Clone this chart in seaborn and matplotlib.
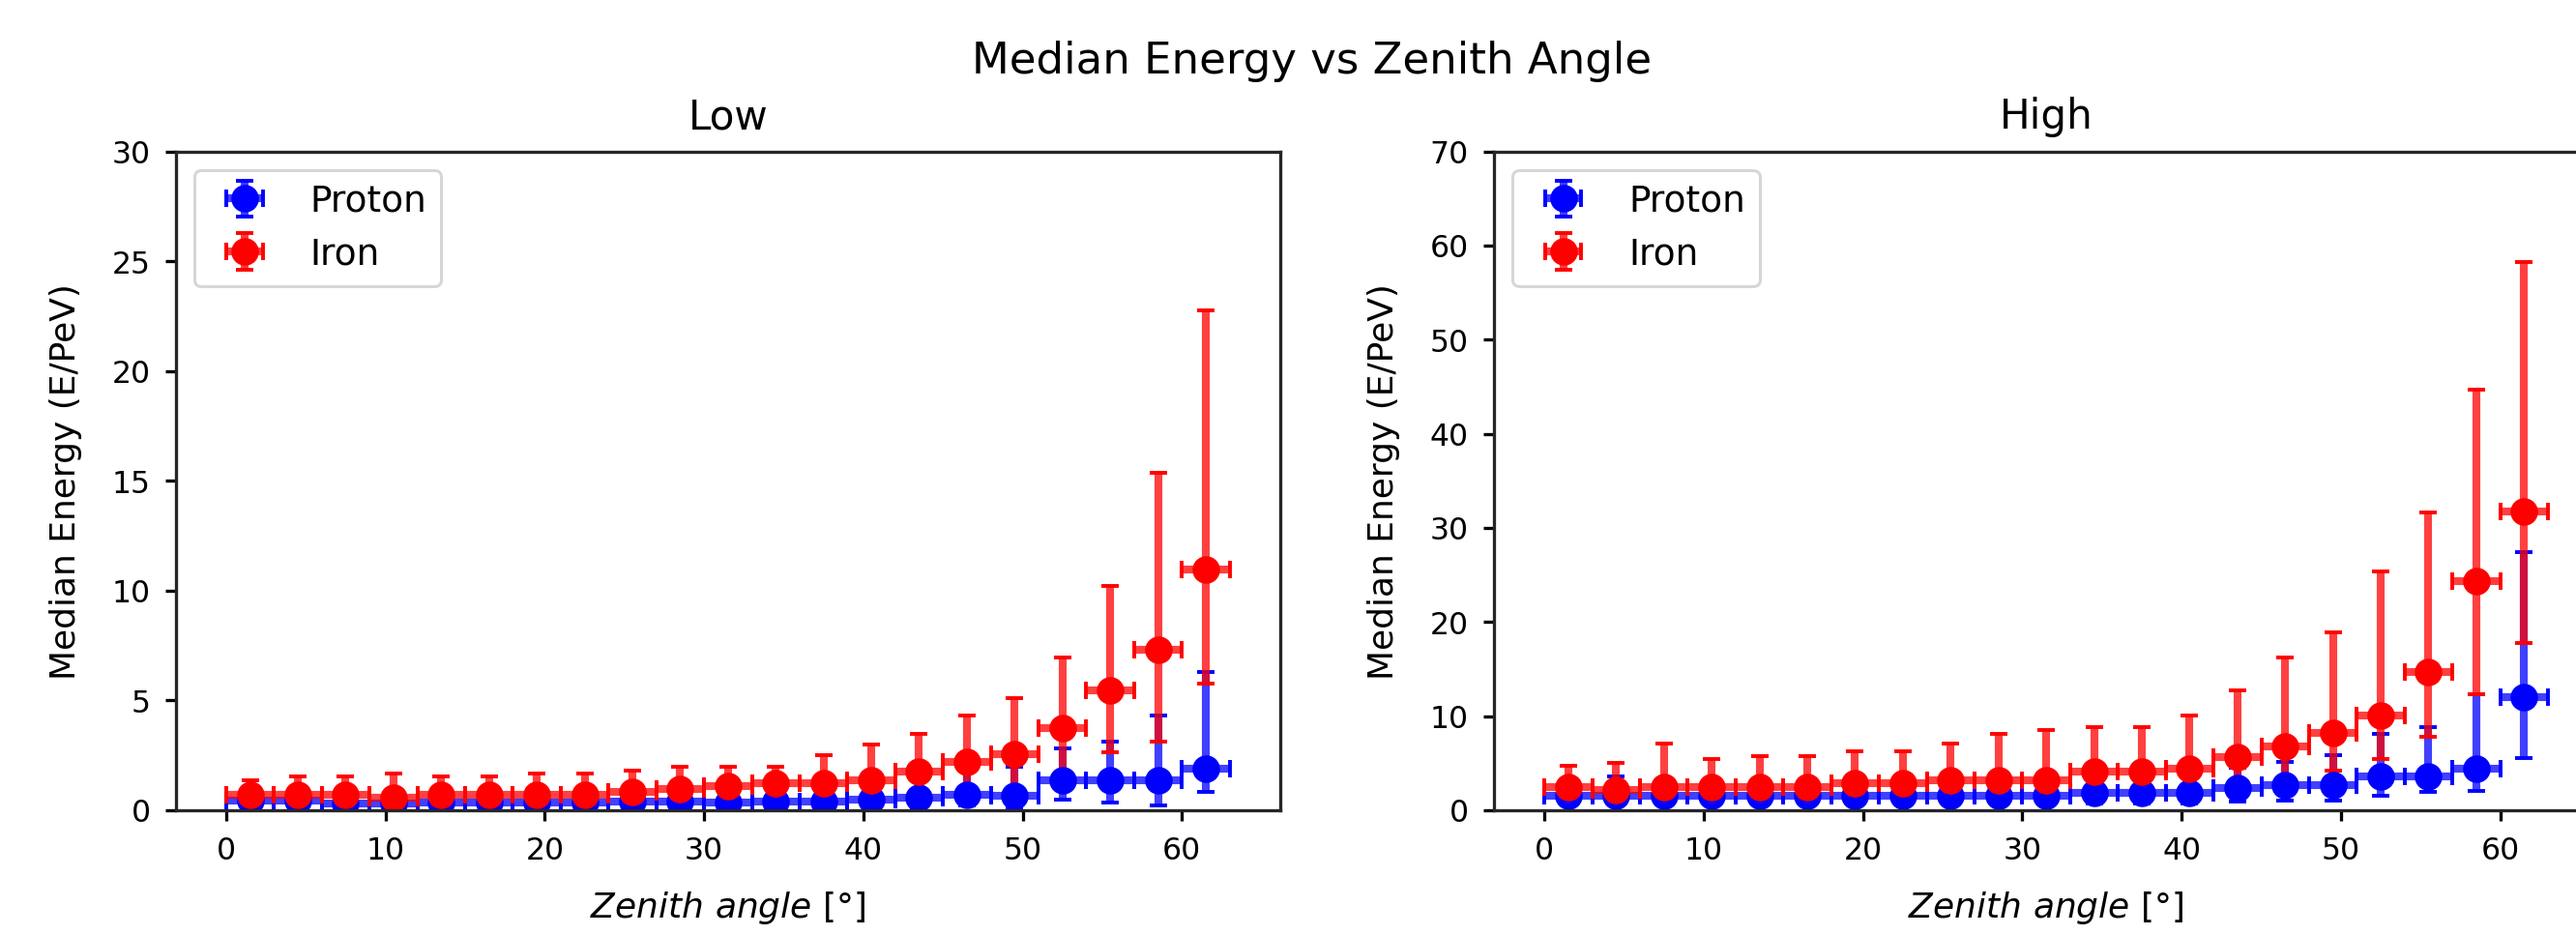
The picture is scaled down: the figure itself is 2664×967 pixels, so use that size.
import numpy as np
import matplotlib
matplotlib.use("Agg")
from matplotlib import pyplot as plt
import seaborn as sns

# bin centres of the zenith angle bins (degrees) and half width of a bin
zenith = [1.5, 4.5, 7.5, 10.5, 13.5, 16.5, 19.5, 22.5, 25.5, 28.5, 31.5,
          34.5, 37.5, 40.5, 43.5, 46.5, 49.5, 52.5, 55.5, 58.5, 61.5]
zenith_halfwidth = 1.5

# Low energy sample: median and lower / upper band (E/PeV)
proton_low_med = [0.42, 0.42, 0.30, 0.30, 0.35, 0.35, 0.35, 0.35, 0.40, 0.40, 0.35,
                  0.40, 0.40, 0.50, 0.57, 0.70, 0.68, 1.36, 1.36, 1.36, 1.89]
proton_low_lo = [0.10, 0.10, 0.05, 0.05, 0.08, 0.08, 0.08, 0.08, 0.10, 0.10, 0.08,
                 0.10, 0.10, 0.12, 0.15, 0.20, 0.15, 0.50, 0.35, 0.20, 0.85]
proton_low_hi = [0.95, 0.95, 0.85, 0.85, 0.90, 0.90, 0.90, 0.95, 1.00, 1.10, 1.10,
                 1.20, 1.25, 1.35, 1.50, 1.80, 2.00, 2.83, 3.13, 4.30, 6.28]

iron_low_med = [0.72, 0.72, 0.72, 0.57, 0.72, 0.72, 0.72, 0.72, 0.83, 0.98, 1.08,
                1.23, 1.23, 1.38, 1.74, 2.22, 2.55, 3.72, 5.48, 7.33, 10.95]
iron_low_lo = [0.30, 0.30, 0.30, 0.25, 0.30, 0.30, 0.30, 0.30, 0.35, 0.40, 0.40,
               0.45, 0.45, 0.50, 0.60, 0.90, 0.90, 1.60, 2.65, 3.13, 5.77]
iron_low_hi = [1.37, 1.52, 1.52, 1.65, 1.52, 1.52, 1.65, 1.65, 1.81, 1.99, 1.99,
               1.99, 2.49, 2.99, 3.48, 4.30, 5.11, 6.97, 10.23, 15.36, 22.77]

# High energy sample
proton_high_med = [1.55, 1.55, 1.55, 1.55, 1.55, 1.55, 1.55, 1.55, 1.55, 1.55, 1.55,
                   1.84, 1.84, 1.84, 2.36, 2.70, 2.70, 3.55, 3.60, 4.42, 12.0]
proton_high_lo = [0.6, 0.6, 0.6, 0.6, 0.6, 0.6, 0.6, 0.6, 0.6, 0.6, 0.6,
                  0.7, 0.7, 0.7, 0.9, 1.0, 1.0, 1.5, 1.9, 2.02, 5.5]
proton_high_hi = [2.8, 3.56, 2.9, 2.9, 2.9, 2.9, 3.0, 3.0, 3.1, 3.1, 3.1,
                  3.6, 3.6, 3.8, 4.5, 5.09, 5.84, 8.1, 8.87, 12.3, 27.45]

iron_high_med = [2.5, 2.18, 2.5, 2.5, 2.5, 2.5, 2.85, 2.85, 3.2, 3.2, 3.2,
                 4.06, 4.06, 4.41, 5.6, 6.8, 8.17, 10.11, 14.7, 24.35, 31.7]
iron_high_lo = [1.8, 1.8, 1.8, 1.8, 1.8, 1.8, 1.9, 1.9, 2.0, 2.0, 2.0,
                2.2, 2.2, 2.4, 2.9, 3.3, 4.24, 5.43, 7.77, 12.35, 17.79]
iron_high_hi = [4.68, 5.05, 7.05, 5.45, 5.78, 5.78, 6.23, 6.23, 7.05, 8.14, 8.54,
                8.88, 8.88, 10.04, 12.78, 16.26, 18.93, 25.4, 31.62, 44.72, 58.27]


sns.set_style("ticks")
plt.rcParams['font.family'] = ['DejaVu Sans']
plt.rcParams.update({
    'text.color': 'black',
    'axes.labelcolor': 'black',
    'xtick.color': 'black',
    'ytick.color': 'black',
    'axes.edgecolor': '0.15',
    'axes.linewidth': 1.1,
    'mathtext.fontset': 'dejavusans',
})


def draw_panel(ax, proton, iron, title, ymax, ystep):
    """errorbar plot of the median energy for proton and iron"""
    for (med, lo, hi), colour, name in [(proton, 'b', 'Proton'), (iron, 'r', 'Iron')]:
        med = np.asarray(med)
        yerr = [med - np.asarray(lo), np.asarray(hi) - med]
        eb = ax.errorbar(zenith, med, xerr=zenith_halfwidth, yerr=yerr,
                         fmt='o', color=colour, ecolor=colour, ms=8.5,
                         elinewidth=2.7, capsize=3, capthick=1.3, label=name)
        for lc in eb[2]:
            lc.set_alpha(0.75)

    ax.set_ylim(0, ymax)
    ax.set_yticks(np.arange(0, ymax + 1, ystep))
    ax.set_xticks(np.arange(0, 61, 10))
    ax.tick_params(labelsize=10.5, length=3.8, width=1.1, pad=5)
    ax.set_title(title, fontsize=14, pad=8)
    ax.set_xlabel(r'$Zenith\ angle$ [°]', fontsize=12)
    ax.set_ylabel('Median Energy (E/PeV)', fontsize=12)
    ax.xaxis.set_label_coords(0.5, -0.12)
    ax.yaxis.set_label_coords(-0.085, 0.5)
    ax.legend(loc='upper left', fontsize=12.5)


fig = plt.figure(figsize=(2664.3 / 216, 967.3 / 216), dpi=216)
ax_low = fig.add_axes([0.0683, 0.1334, 0.4285, 0.7042])
ax_high = fig.add_axes([0.5800, 0.1334, 0.4285, 0.7042])

draw_panel(ax_low, (proton_low_med, proton_low_lo, proton_low_hi),
           (iron_low_med, iron_low_lo, iron_low_hi), 'Low', 30, 5)
draw_panel(ax_high, (proton_high_med, proton_high_lo, proton_high_hi),
           (iron_high_med, iron_high_lo, iron_high_hi), 'High', 70, 10)

fig.text(0.509, 0.921, 'Median Energy vs Zenith Angle', ha='center',
         va='baseline', fontsize=15)

fig.savefig('out.png', dpi=216)
